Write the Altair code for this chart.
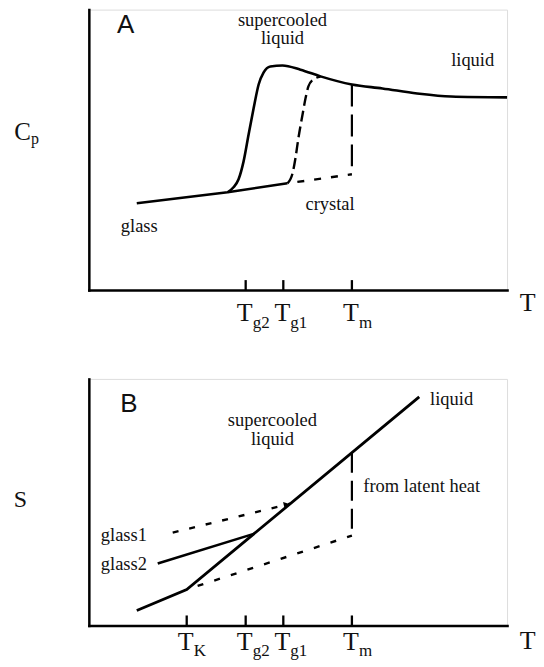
import altair as alt
import pandas as pd

# ---------------- schematic data (T, Cp, S in arbitrary units 0-100) ----------------
# Panel A : heat capacity
A_glass_T = [11.46, 33.17, 47.49]
A_glass_Cp = [30.96, 34.88, 38.08]

A_super_T = [33.17, 34.6, 35.8, 37.0, 38.2, 39.4, 40.6, 41.8, 43.4, 46.3, 50.6, 55.4, 62.9, 70.2, 78.5, 86.6, 100.0]
A_super_Cp = [34.88, 36.65, 39.5, 45.9, 55.5, 64.8, 73.3, 77.6, 79.7, 80.1, 78.6, 76.2, 73.3, 71.9, 70.1, 69.0, 68.7]

A_g1_T = [47.49, 48.7, 49.4, 50.1, 51.1, 51.8, 52.5, 53.7, 55.4]
A_g1_Cp = [38.08, 41.6, 47.0, 54.1, 62.6, 68.3, 72.6, 75.1, 76.1]

A_crys_T = [47.49, 62.9]
A_crys_Cp = [38.08, 41.28]

A_melt_T = [62.9, 62.9]
A_melt_Cp = [73.3, 41.28]

A_ticks = [37.5, 46.5, 62.9]
A_tick_sub = ["g2", "g1", "m"]

# Panel B : entropy
B_liq_T = [11.46, 23.4, 79.0]
B_liq_S = [6.07, 14.57, 92.71]

B_glass2_T = [16.47, 39.62]
B_glass2_S = [25.10, 37.25]

B_glass1_T = [20.05, 48.21]
B_glass1_S = [37.65, 49.39]

B_arrow_T = [47.3]
B_arrow_S = [49.0]

B_crys_T = [23.4, 62.9]
B_crys_S = [14.57, 36.44]

B_melt_T = [62.9, 62.9]
B_melt_S = [70.0, 36.44]

B_ticks = [23.4, 37.5, 46.5, 62.9]
B_tick_sub = ["K", "g2", "g1", "m"]

# annotations
A_serif_left_text = ["glass", "crystal", "liquid", "p"]
A_serif_left_T = [7.64, 51.79, 86.63, -13.84]
A_serif_left_v = [20.64, 28.47, 80.07, 51.96]
A_serif_left_fs = [18.5, 18.5, 18.5, 16]

A_serif_center_text = ["supercooled", "liquid", "C", "T"]
A_serif_center_T = [46.3, 46.3, -15.87, 104.9]
A_serif_center_v = [94.3, 87.8, 53.38, -7.47]
A_serif_center_fs = [18.5, 18.5, 25, 26]

A_panel_label = ["A"]
A_panel_T = [8.83]
A_panel_v = [91.6]

B_serif_left_text = ["liquid", "from latent heat", "glass1", "glass2"]
B_serif_left_T = [81.6, 65.63, 2.86, 2.86]
B_serif_left_v = [89.47, 54.25, 34.41, 22.47]
B_serif_left_fs = [18.5, 18.5, 18.5, 18.5]

B_serif_center_text = ["supercooled", "liquid", "S", "T"]
B_serif_center_T = [43.9, 43.9, -16.35, 104.9]
B_serif_center_v = [80.97, 73.28, 48.18, -9.72]
B_serif_center_fs = [18.5, 18.5, 24, 26]

B_panel_label = ["B"]
B_panel_T = [9.55]
B_panel_v = [86.6]

SERIF = "Liberation Serif"
SANS = "Liberation Sans"
INK = "#111111"

W = 419
HA = 281
HB = 247


def enc_x():
    return alt.X("T:Q", scale=alt.Scale(domain=[0, 100], nice=False, zero=False),
                 axis=alt.Axis(labels=False, ticks=False, grid=False, title=None,
                               domainWidth=2.5, domainColor="black", domainCap="square"))


def enc_y():
    return alt.Y("v:Q", scale=alt.Scale(domain=[0, 100], nice=False, zero=False),
                 axis=alt.Axis(labels=False, ticks=False, grid=False, title=None,
                               domainWidth=2.5, domainColor="black", domainCap="square"))


def line(T, v, width=2.6, dash=None, offset=None, interp="linear"):
    df = pd.DataFrame({"T": T, "v": v, "i": list(range(len(T)))})
    kw = dict(color="black", strokeWidth=width, interpolate=interp)
    if dash is not None:
        kw["strokeDash"] = dash
    if offset is not None:
        kw["strokeDashOffset"] = offset
    return alt.Chart(df).mark_line(**kw).encode(x=enc_x(), y=enc_y(), order="i:Q")


def texts(txt, T, v, fs, align, font):
    df = pd.DataFrame({"text": txt, "T": T, "v": v, "fs": fs})
    return alt.Chart(df).mark_text(align=align, baseline="alphabetic", font=font, color=INK).encode(
        x=enc_x(), y=enc_y(), text="text:N", size=alt.Size("fs:Q", scale=None))


def tick_layers(ticks, subs, H, dy_main, dy_sub):
    df = pd.DataFrame({"T": ticks, "sub": subs, "main": ["T"] * len(ticks)})
    rules = alt.Chart(df).mark_rule(color="black", strokeWidth=2.3).encode(
        x=enc_x(), y=alt.value(H), y2=alt.value(H - 10))
    main = alt.Chart(df).mark_text(align="center", baseline="alphabetic", font=SERIF, fontSize=26,
                                   dx=-1, dy=dy_main, color=INK).encode(
        x=enc_x(), y=alt.datum(0), text="main:N")
    sub = alt.Chart(df).mark_text(align="left", baseline="alphabetic", font=SERIF, fontSize=17,
                                  dx=7, dy=dy_sub, color=INK).encode(
        x=enc_x(), y=alt.datum(0), text="sub:N")
    return [rules, main, sub]


panel_a = alt.layer(
    line(A_glass_T, A_glass_Cp),
    line(A_super_T, A_super_Cp, interp="monotone"),
    line(A_g1_T, A_g1_Cp, width=2.4, dash=[11, 5], interp="monotone"),
    line(A_crys_T, A_crys_Cp, width=2.4, dash=[7, 10], offset=7),
    line(A_melt_T, A_melt_Cp, width=2.2, dash=[22, 8]),
    *tick_layers(A_ticks, A_tick_sub, HA, 31, 38),
    texts(A_serif_left_text, A_serif_left_T, A_serif_left_v, A_serif_left_fs, "left", SERIF),
    texts(A_serif_center_text, A_serif_center_T, A_serif_center_v, A_serif_center_fs, "center", SERIF),
    texts(A_panel_label, A_panel_T, A_panel_v, [26], "center", SANS),
).properties(width=W, height=HA)

arrow_df = pd.DataFrame({"T": B_arrow_T, "v": B_arrow_S})
arrow = alt.Chart(arrow_df).mark_point(shape="triangle-right", filled=True, size=45, angle=346,
                                       color="black", opacity=1).encode(x=enc_x(), y=enc_y())

panel_b = alt.layer(
    line(B_liq_T, B_liq_S, width=2.8),
    line(B_glass2_T, B_glass2_S),
    line(B_glass1_T, B_glass1_S, width=2.4, dash=[6, 11]),
    arrow,
    line(B_crys_T, B_crys_S, width=2.4, dash=[6, 11.5], offset=6),
    line(B_melt_T, B_melt_S, width=2.2, dash=[20, 8]),
    *tick_layers(B_ticks, B_tick_sub, HB, 25, 31),
    texts(B_serif_left_text, B_serif_left_T, B_serif_left_v, B_serif_left_fs, "left", SERIF),
    texts(B_serif_center_text, B_serif_center_T, B_serif_center_v, B_serif_center_fs, "center", SERIF),
    texts(B_panel_label, B_panel_T, B_panel_v, [26], "center", SANS),
).properties(width=W, height=HB)

chart = alt.vconcat(panel_a, panel_b, spacing=46).properties(
    padding={"left": 5, "top": 0, "right": 0, "bottom": 0}
).configure_view(strokeWidth=0).configure(background="white")

chart.save("out.html", embed_options={"renderer": "svg", "actions": False})
